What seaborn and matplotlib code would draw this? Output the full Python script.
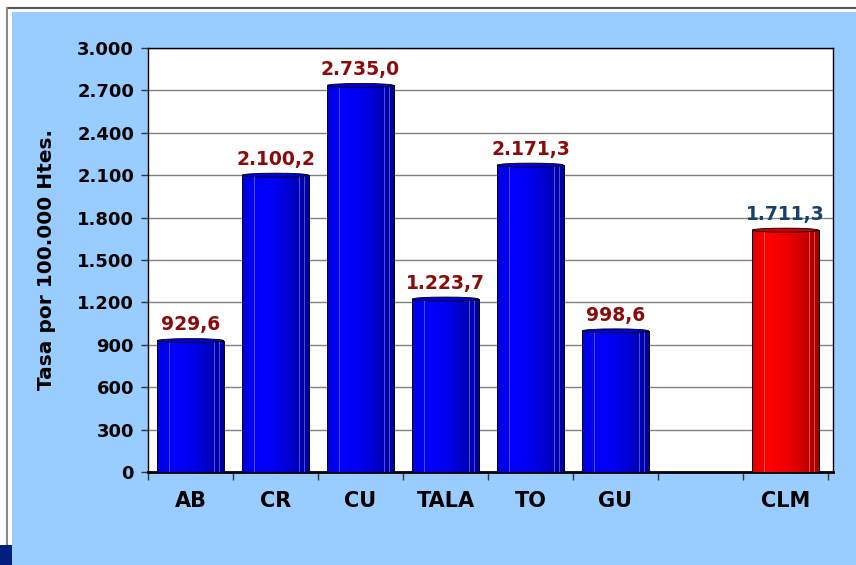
"""Tasa por 100.000 habitantes por provincia (Castilla-La Mancha)."""

import matplotlib.pyplot as plt
import numpy as np
import pandas as pd
import seaborn as sns
from matplotlib.colors import LinearSegmentedColormap
from matplotlib.patches import Ellipse, Rectangle
from matplotlib.ticker import FixedLocator, FuncFormatter

# data
provinces = ["AB", "CR", "CU", "TALA", "TO", "GU", "CLM"]
rates = [929.6, 2100.2, 2735.0, 1223.7, 2171.3, 998.6, 1711.3]
slot_order = ["AB", "CR", "CU", "TALA", "TO", "GU", " ", "CLM"]
y_ticks = list(range(0, 3001, 300))

BG_BLUE = "#99CCFF"
BLUE_MAP = LinearSegmentedColormap.from_list(
    "cyl_blue", ["#0000E0", "#0000FF", "#0000F0", "#0000C8", "#00009A"])
RED_MAP = LinearSegmentedColormap.from_list(
    "cyl_red", ["#E00000", "#FF0000", "#F00000", "#D00000", "#A00000"])


def fmt_es(v, decimals=0):
    s = f"{v:,.{decimals}f}"
    return s.replace(",", "X").replace(".", ",").replace("X", ".")


def make_chart() -> None:
    df = pd.DataFrame({"provincia": provinces, "tasa": rates})
    df["grupo"] = np.where(df["provincia"] == "CLM", "region", "prov")

    sns.set_style("white")
    plt.rcParams["font.family"] = ["DejaVu Sans"]
    plt.rcParams["font.weight"] = "bold"
    plt.rcParams["text.color"] = "black"
    plt.rcParams["xtick.color"] = "black"
    plt.rcParams["ytick.color"] = "black"
    plt.rcParams["axes.labelcolor"] = "black"

    fig = plt.figure(figsize=(8.56, 5.65), dpi=100, facecolor="white")
    W, H = 856, 565

    # light blue slide panel, grey frame and little corner square
    fig.add_artist(Rectangle((12 / W, 0), 1, 1 - 12 / H, transform=fig.transFigure,
                             facecolor=BG_BLUE, edgecolor="none", zorder=-2))
    fig.add_artist(plt.Line2D([7 / W, 1], [1 - 7.5 / H, 1 - 7.5 / H], transform=fig.transFigure,
                              color="#555555", lw=1.5, zorder=-1))
    fig.add_artist(plt.Line2D([7 / W, 7 / W], [0, 1 - 7.5 / H], transform=fig.transFigure,
                              color="#888888", lw=1.5, zorder=-1))
    fig.add_artist(Rectangle((0, 0), 12 / W, 20 / H, transform=fig.transFigure,
                             facecolor="#00207F", edgecolor="none", zorder=-1))

    ax = fig.add_axes([148 / W, 1 - 472 / H, (833 - 148) / W, (472 - 48) / H])
    ax.set_facecolor("white")

    sns.barplot(data=df, x="provincia", y="tasa", order=slot_order, hue="grupo",
                palette={"prov": "#0000FF", "region": "#FF0000"}, width=0.78,
                edgecolor="black", linewidth=0.7, legend=False, ax=ax, zorder=3)

    ylim = (0, 3000)
    xlim = (-0.5, 7.56)
    cap_h = 4 / 424 * 3000

    bars = [p for p in ax.patches if p.get_height() > 0]
    for p in bars:
        x0, w, h = p.get_x(), p.get_width(), p.get_height()
        cmap = RED_MAP if p.get_facecolor()[0] > 0.5 else BLUE_MAP
        grad = np.linspace(0, 1, 256).reshape(1, -1)
        im = ax.imshow(grad, extent=[x0, x0 + w, 0, h], aspect="auto", cmap=cmap,
                       zorder=3.5, interpolation="bicubic")
        im.set_clip_path(p)
        light = "#FF8080" if cmap is RED_MAP else "#8080FF"
        for frac in (0.18, 0.86, 0.93):
            ax.plot([x0 + w * frac] * 2, [0, h], color=light, lw=0.6, alpha=0.7, zorder=3.6)
        ax.add_patch(Rectangle((x0, 0), w, h, fill=False, edgecolor="black", lw=0.7, zorder=3.7))
        top_col = "#D00000" if cmap is RED_MAP else "#0000D8"
        ax.add_patch(Ellipse((x0 + w / 2, h), w, cap_h, facecolor=top_col,
                             edgecolor="black", lw=0.6, zorder=3.8))

    # value labels
    for i, name in enumerate(slot_order):
        if name not in provinces:
            continue
        v = rates[provinces.index(name)]
        col = "#17406D" if name == "CLM" else "#8B0A0A"
        ax.text(i, v + 45, fmt_es(v, 1), ha="center", va="bottom", color=col,
                fontsize=13.5, fontweight="bold", zorder=5)

    ax.set_ylim(*ylim)
    ax.set_xlim(*xlim)

    ax.yaxis.set_major_locator(FixedLocator(y_ticks))
    ax.yaxis.set_major_formatter(FuncFormatter(lambda v, _: fmt_es(v)))
    ax.grid(axis="y", color="#808080", lw=1, zorder=0)
    ax.set_axisbelow(True)

    # category labels centred in slots, tick marks on slot boundaries
    ax.set_xticks(np.arange(-0.5, 8.0, 1.0))
    ax.set_xticklabels([])
    ax.set_xticks(range(len(slot_order)), minor=True)
    ax.set_xticklabels(slot_order, minor=True)
    ax.tick_params(axis="x", which="major", direction="out", length=6, width=1,
                   color="#333333", bottom=True)
    ax.tick_params(axis="x", which="minor", length=0, pad=14, labelsize=15)
    ax.tick_params(axis="y", direction="out", length=5, width=1, color="#333333",
                   left=True, pad=5, labelsize=13)

    for side in ["top", "right", "left", "bottom"]:
        ax.spines[side].set_color("black")
        ax.spines[side].set_linewidth(1)
        ax.spines[side].set_visible(True)
    ax.spines["bottom"].set_linewidth(2)

    ax.set_xlabel("")
    ax.set_ylabel("Tasa por 100.000 Htes.", fontsize=14.5, fontweight="bold")
    ax.yaxis.set_label_coords(-92 / (833 - 148), 0.5)

    fig.savefig("out.png", dpi=100, facecolor=fig.get_facecolor())


if __name__ == "__main__":
    make_chart()
